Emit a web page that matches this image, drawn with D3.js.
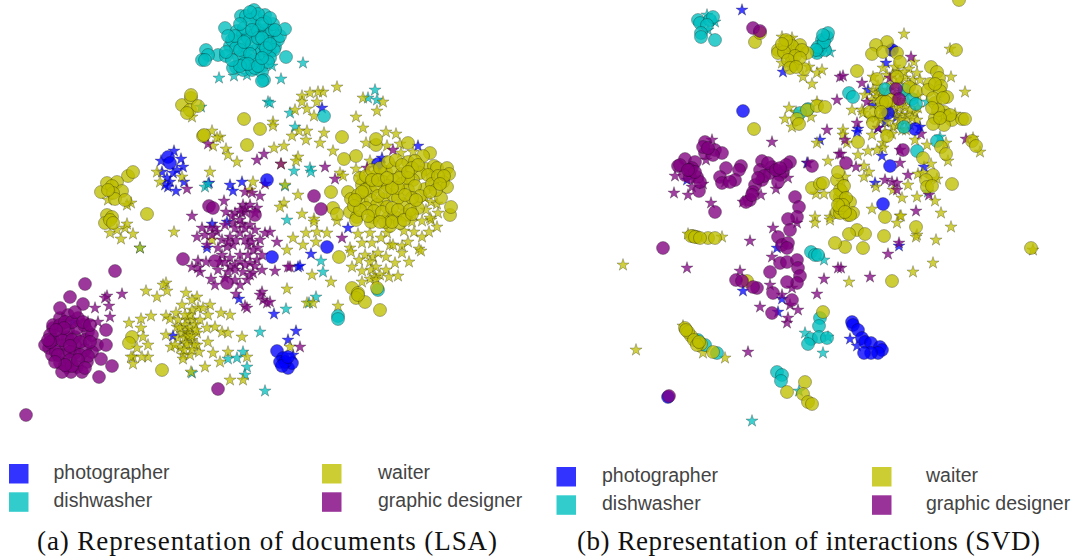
<!DOCTYPE html>
<html>
<head>
<meta charset="utf-8">
<script src="https://cdn.jsdelivr.net/npm/d3@7"></script>
<style>
	body { margin: 0; background: #fff; }
	.legend-label { font-family: "Liberation Sans", sans-serif; font-size: 19.5px; fill: #444; }
	.caption { font-family: "Liberation Serif", serif; font-size: 27px; fill: #111; }
</style>
</head>
<body>
<script>

// Job categories
var jobs = ["photographer", "dishwasher", "waiter", "graphic designer"];
var captions = ["(a) Representation of documents (LSA)", "(b) Representation of interactions (SVD)"];

// Panel (a), values, [x, y] in embedding units
var lsaPhotographerCircles = [[168,157],[170,163],[267,180],[327,247],[378,164],[272,257],[277,351],[283,358],[280,362],[288,368],[292,363],[285,362],[282,366],[288,357]];
var lsaPhotographerStars = [[174,151],[181,159],[161,161],[183,167],[177,170],[173,173],[162,172],[167,178],[170,182],[168,187],[184,182],[176,191],[165,185],[230,185],[242,182],[233,191],[209,183],[322,108],[418,146],[382,158],[212,224],[207,248],[227,222],[239,299],[173,336],[73,322],[348,228],[311,254],[298,267],[300,266],[274,314],[296,331],[288,340],[293,355]];
var lsaDishwasherCircles = [[225,28],[241,16],[246,16],[254,10],[256,17],[265,15],[237,31],[243,34],[255,26],[258,30],[251,36],[245,49],[258,31],[258,48],[246,58],[256,61],[247,50],[239,57],[236,67],[233,68],[243,70],[252,70],[254,60],[262,66],[262,50],[263,44],[230,46],[240,42],[248,38],[266,30],[268,36],[272,30],[273,24],[265,22],[268,42],[265,55],[270,52],[275,47],[278,40],[280,36],[274,50],[270,58],[262,72],[255,68],[218,55],[226,56],[206,50],[208,55],[202,60],[205,60],[264,80],[262,81],[285,29],[286,57],[324,116],[378,290],[338,316],[338,319],[232,40],[236,48],[240,50],[244,28],[250,20],[258,14],[262,24],[252,44],[250,54],[258,38],[262,38],[266,48],[268,62],[244,64],[240,66],[248,64],[258,66],[270,44],[262,58],[252,30],[240,24],[235,36],[250,12],[244,42],[275,30],[270,18],[228,36],[232,60],[226,52]];
var lsaDishwasherStars = [[219,78],[234,76],[247,75],[268,102],[201,107],[205,187],[208,184],[303,63],[281,79],[272,66],[270,103],[375,90],[368,98],[377,100],[290,113],[295,127],[310,168],[311,172],[294,171],[285,186],[287,220],[140,248],[192,373],[228,359],[237,358],[243,352],[247,367],[245,375],[260,332],[265,391],[321,261],[323,272],[286,309],[316,297],[309,303]];
var lsaWaiterCircles = [[182,105],[191,98],[190,110],[187,113],[198,106],[191,95],[244,119],[260,129],[247,145],[203,136],[204,135],[147,214],[128,176],[133,172],[101,192],[107,183],[117,182],[112,186],[122,191],[113,193],[115,199],[125,200],[108,190],[107,215],[112,217],[105,223],[110,220],[113,223],[132,337],[129,343],[162,370],[342,137],[356,156],[344,159],[331,192],[376,145],[376,139],[408,143],[430,153],[423,156],[450,215],[451,207],[333,208],[337,214],[350,212],[348,192],[351,199],[362,185],[370,182],[377,175],[386,172],[393,168],[402,174],[408,162],[415,161],[426,169],[434,166],[437,168],[447,168],[449,174],[443,182],[447,187],[433,178],[420,173],[425,189],[441,198],[371,191],[383,182],[393,180],[402,184],[413,180],[362,202],[371,200],[383,199],[393,195],[403,204],[408,190],[398,198],[377,205],[387,207],[418,208],[357,217],[373,217],[388,218],[405,215],[395,217],[356,220],[371,222],[390,226],[400,223],[385,222],[352,288],[358,293],[356,298],[365,302],[358,295],[377,288],[380,310],[339,257],[360,178],[366,176],[372,170],[380,168],[388,162],[396,160],[402,165],[412,168],[418,165],[358,195],[365,190],[376,186],[388,186],[398,188],[408,178],[415,186],[420,196],[412,198],[405,195],[378,196],[366,208],[374,211],[382,212],[392,208],[398,210],[410,210],[354,206],[360,210],[368,216],[380,222],[392,222],[404,220],[412,214],[416,200],[428,175],[432,184],[438,176],[444,176],[436,190],[430,192],[440,184],[385,192],[392,188],[372,180],[378,180],[399,178],[408,172],[387,178],[362,192],[355,200]];
var lsaWaiterStars = [[337,87],[323,92],[318,92],[310,93],[302,96],[302,102],[317,102],[307,109],[295,110],[314,116],[363,98],[383,102],[377,111],[356,117],[363,128],[386,132],[396,134],[366,143],[387,146],[400,144],[401,153],[413,152],[370,161],[356,169],[360,177],[340,173],[343,176],[324,133],[320,143],[307,131],[306,140],[299,131],[292,136],[284,146],[274,148],[273,122],[273,126],[298,157],[296,161],[281,164],[302,214],[298,195],[284,203],[280,207],[285,185],[314,219],[333,151],[314,222],[337,221],[306,233],[317,232],[327,233],[293,238],[303,245],[316,242],[287,250],[312,275],[287,289],[331,282],[338,306],[307,303],[313,303],[290,347],[350,248],[351,252],[358,234],[370,233],[387,233],[404,231],[414,232],[422,237],[429,232],[437,227],[362,243],[372,243],[381,238],[390,245],[393,245],[402,246],[408,242],[402,253],[419,249],[421,251],[409,262],[395,263],[386,257],[365,255],[373,257],[378,253],[370,262],[359,260],[352,267],[362,271],[371,270],[376,267],[386,270],[389,277],[398,276],[380,275],[375,277],[370,279],[362,282],[376,280],[412,222],[422,221],[431,220],[425,198],[431,202],[437,204],[438,213],[426,210],[413,215],[430,218],[110,233],[117,230],[125,228],[133,234],[121,239],[127,224],[140,248],[174,232],[146,291],[157,297],[166,283],[163,285],[167,291],[186,293],[197,297],[192,300],[182,305],[198,308],[210,305],[176,313],[166,316],[170,319],[177,327],[151,316],[141,319],[129,323],[141,328],[143,337],[148,345],[137,348],[148,357],[133,357],[131,357],[133,364],[142,357],[166,335],[171,347],[178,338],[180,348],[183,355],[183,359],[190,355],[199,352],[192,310],[203,308],[187,320],[193,320],[200,320],[208,315],[207,328],[187,330],[182,333],[188,333],[197,333],[185,338],[192,340],[197,345],[208,342],[213,353],[215,327],[222,332],[221,313],[230,315],[228,333],[242,337],[228,352],[220,362],[247,357],[191,372],[205,367],[230,380],[243,380],[212,240],[192,117],[212,131],[220,137],[213,146],[217,138],[226,149],[228,155],[237,162],[210,172],[157,172],[160,182],[182,177],[108,200],[131,203],[127,205],[253,182],[250,190],[185,325],[190,328],[188,336],[192,336],[195,325],[180,328],[186,343],[178,320],[194,345],[187,345],[190,315],[185,315],[175,345],[196,330],[184,350],[192,350]];
var lsaDesignerCircles = [[49,348],[52,355],[53,328],[53,325],[60,318],[68,315],[78,318],[88,332],[97,345],[85,340],[75,337],[67,337],[58,335],[58,345],[66,345],[75,353],[65,355],[60,363],[67,367],[77,367],[87,362],[92,352],[85,350],[71,372],[82,372],[50,335],[68,330],[77,328],[53,340],[75,345],[85,284],[70,297],[83,304],[60,308],[106,330],[106,345],[101,359],[112,366],[99,377],[115,271],[26,415],[183,259],[215,261],[227,283],[218,389],[209,206],[213,208],[314,196],[321,209],[255,215],[60,325],[65,322],[72,322],[84,325],[92,335],[45,345],[56,352],[62,340],[72,340],[80,342],[90,342],[58,355],[70,352],[80,355],[88,356],[70,360],[62,372],[72,366],[78,360],[50,342],[83,322],[75,312],[64,328],[56,330],[90,325],[70,346],[65,365],[85,368],[48,340],[55,362]];
var lsaDesignerStars = [[122,294],[107,296],[105,298],[109,306],[95,308],[110,317],[98,322],[88,322],[197,237],[202,228],[205,235],[217,232],[233,223],[242,224],[250,225],[265,233],[230,237],[240,233],[250,237],[227,247],[233,245],[248,245],[253,250],[222,255],[230,258],[240,262],[250,263],[257,260],[218,270],[230,267],[253,273],[198,261],[192,267],[200,272],[211,279],[235,280],[247,280],[236,294],[245,306],[247,308],[262,292],[263,300],[267,303],[260,295],[207,245],[264,154],[257,160],[224,201],[245,192],[252,193],[260,196],[265,184],[243,205],[235,213],[245,212],[257,208],[187,189],[192,216],[208,144],[242,213],[255,213],[325,167],[335,179],[367,168],[393,150],[281,164],[342,238],[277,242],[275,271],[290,267],[288,267],[300,347],[270,232],[270,302],[215,228],[225,225],[235,228],[245,228],[255,230],[260,240],[222,240],[228,242],[236,240],[245,240],[252,242],[258,248],[220,262],[225,262],[235,265],[245,265],[255,266],[228,272],[235,270],[243,272],[225,278],[250,275],[240,255],[248,255],[262,255],[218,248],[212,235],[210,228],[240,220],[232,216],[240,210],[246,208],[226,212],[250,205],[206,262],[198,268],[215,285],[240,285],[262,270]];

// Panel (b)
var svdPhotographerCircles = [[203,111],[350,166],[375,129],[348,113],[343,204],[352,50],[312,322],[313,325],[318,330],[322,338],[325,342],[331,343],[340,347],[342,350],[338,353],[331,353],[324,353],[128,397]];
var svdPhotographerStars = [[202,10],[243,72],[280,140],[267,163],[147,180],[352,48],[346,63],[328,90],[333,105],[380,127],[357,117],[345,122],[318,129],[317,132],[342,156],[384,167],[335,183],[338,128],[310,339],[317,346],[359,246],[203,291],[242,299],[238,312],[237,248]];
var svdDishwasherCircles = [[158,20],[160,23],[170,20],[173,17],[167,25],[161,33],[161,37],[175,40],[287,37],[282,40],[283,45],[280,50],[277,53],[285,50],[268,109],[260,113],[309,93],[313,97],[345,89],[365,90],[372,99],[376,104],[364,127],[397,141],[377,151],[271,252],[275,255],[278,255],[280,318],[279,326],[271,339],[268,344],[279,337],[287,338],[158,340],[165,345],[177,353],[237,372],[242,375],[241,381],[278,47],[284,42],[288,33],[283,35],[276,50]];
var svdDishwasherStars = [[175,22],[167,15],[168,30],[290,52],[278,53],[284,260],[265,333],[283,353],[212,421],[259,391],[288,337],[387,102],[400,137],[388,192]];
var svdWaiterCircles = [[215,42],[220,33],[238,50],[249,42],[257,50],[260,45],[267,53],[238,53],[250,55],[252,62],[253,65],[264,69],[214,129],[267,110],[277,106],[285,107],[257,119],[259,124],[297,180],[272,188],[280,184],[283,183],[300,197],[297,212],[300,203],[419,0],[416,50],[347,42],[336,45],[332,54],[343,52],[357,53],[360,62],[317,71],[337,79],[357,77],[369,87],[376,91],[351,100],[342,102],[346,102],[330,112],[341,112],[333,123],[318,142],[347,136],[383,158],[401,147],[406,154],[391,67],[397,72],[399,78],[390,84],[401,86],[388,90],[400,91],[407,97],[395,103],[393,98],[404,112],[405,116],[412,120],[404,125],[395,118],[393,124],[422,119],[425,119],[432,141],[436,146],[393,175],[386,180],[387,187],[392,186],[412,184],[345,217],[302,192],[310,202],[308,215],[313,213],[300,213],[317,230],[309,234],[325,234],[344,236],[305,247],[323,248],[376,227],[491,248],[352,281],[310,215],[295,243],[157,237],[153,236],[168,238],[175,238],[207,281],[283,312],[145,328],[151,336],[161,344],[173,352],[247,392],[265,382],[263,394],[268,402],[272,404],[245,46],[252,46],[262,50],[244,52],[255,56],[248,60],[260,58],[246,40],[242,44],[250,68],[256,67],[395,84],[403,98],[398,110],[410,115],[392,108],[400,118],[300,190],[304,200],[296,195],[300,208],[304,186],[298,172],[306,198],[303,205],[298,205],[305,212],[148,332],[154,340],[157,345],[146,330],[159,342],[151,236],[155,237],[160,238]];
var svdWaiterStars = [[242,37],[252,38],[242,63],[263,77],[269,67],[277,73],[282,70],[272,84],[249,108],[256,112],[245,119],[252,127],[271,117],[277,102],[277,143],[288,161],[276,194],[284,194],[275,217],[290,217],[364,34],[410,49],[374,62],[369,69],[377,73],[343,68],[333,77],[411,77],[425,92],[325,95],[333,90],[337,93],[312,110],[322,110],[323,113],[415,114],[303,130],[303,135],[307,143],[332,135],[337,117],[343,143],[343,148],[337,150],[328,151],[318,155],[324,166],[329,172],[324,177],[305,177],[302,182],[336,187],[368,185],[378,174],[391,164],[397,179],[375,140],[387,145],[406,143],[408,161],[440,152],[433,138],[362,198],[377,197],[332,209],[395,201],[401,213],[360,216],[353,190],[383,173],[343,110],[350,113],[357,115],[362,115],[368,115],[375,113],[377,120],[353,127],[365,120],[370,125],[358,108],[352,105],[343,97],[337,97],[368,102],[360,80],[365,78],[373,80],[355,67],[361,216],[357,223],[377,235],[376,237],[396,240],[411,227],[393,263],[373,272],[309,282],[148,234],[182,237],[83,265],[96,350],[143,326],[163,353],[185,358],[275,223],[290,220],[493,250],[340,100],[345,105],[348,90],[355,95],[360,100],[365,108],[352,112],[345,115],[338,108],[332,100],[330,118],[340,120],[348,122],[358,125],[362,130],[370,110],[372,118],[378,108],[350,85],[356,85],[362,92],[368,92],[358,72],[364,72],[347,75],[353,75],[338,86],[342,92],[360,120],[366,130],[352,134],[345,132],[370,85],[360,105],[355,100],[378,96],[380,80]];
var svdDesignerCircles = [[213,28],[220,31],[165,142],[175,150],[182,153],[165,153],[173,155],[145,159],[138,166],[155,162],[152,168],[157,177],[145,175],[150,177],[159,191],[175,212],[186,168],[201,166],[199,170],[180,177],[182,183],[195,180],[190,182],[222,161],[250,162],[232,167],[220,170],[230,173],[243,172],[240,175],[238,182],[222,180],[215,185],[213,192],[210,200],[206,202],[255,197],[259,207],[272,166],[257,217],[248,219],[356,89],[359,99],[363,150],[306,163],[238,237],[242,245],[248,243],[250,230],[247,248],[123,248],[196,280],[202,281],[217,288],[213,287],[230,272],[240,263],[247,262],[257,260],[258,268],[260,276],[257,283],[247,282],[233,293],[252,300],[232,313],[129,396],[160,182],[140,165],[150,170],[155,172],[148,170],[163,147],[168,148],[228,163],[236,170],[246,165],[224,176],[218,178],[212,195],[240,168]];
var svdDesignerStars = [[297,100],[287,130],[232,142],[172,140],[166,160],[135,176],[134,193],[148,195],[152,187],[163,184],[171,203],[185,182],[268,163],[236,189],[248,178],[221,195],[203,202],[299,154],[300,77],[303,76],[322,83],[371,57],[350,78],[327,102],[317,123],[338,128],[305,140],[381,134],[426,139],[360,163],[316,167],[301,154],[368,175],[345,180],[352,182],[357,183],[357,190],[389,195],[376,211],[360,150],[348,254],[359,243],[330,277],[301,268],[233,228],[210,241],[147,268],[232,257],[200,271],[230,285],[252,288],[242,295],[220,307],[250,305],[258,310],[247,323],[248,318],[284,279],[277,294],[208,352],[257,223],[298,268]];

// Same colour for every job in both panels
var colorScale = d3.scaleOrdinal()
	.domain(jobs)
	.range(["#0000ff", "#00bfbf", "#bfbf00", "#800080"]);

var svg = d3.select("body").append("svg")
	.attr("width", 1076)
	.attr("height", 560);

// The source is a slightly soft bitmap
var blur = svg.append("defs").append("filter")
	.attr("id", "soft")
	.attr("x", "-5%").attr("y", "-5%")
	.attr("width", "110%").attr("height", "110%");
blur.append("feGaussianBlur").attr("stdDeviation", 0.45);

var star = d3.symbol().type(d3.symbolStar).size(46);

function drawPanel(panel, circles, stars, captionText) {

	var xScale = d3.scaleLinear().domain(panel.xDomain).range(panel.xRange);
	var yScale = d3.scaleLinear().domain([0, 560]).range([0, 560]);

	var marks = svg.append("g").attr("filter", "url(#soft)");

	// Stars first, circles sit on top of them
	jobs.forEach(function(job, i) {
		marks.append("g").selectAll("path")
			.data(stars[i])
			.enter()
			.append("path")
			.attr("d", star)
			.attr("transform", function(d) {
				return "translate(" + xScale(d[0]) + "," + yScale(d[1]) + ")";
			})
			.attr("fill", colorScale(job))
			.attr("fill-opacity", 0.75)
			.attr("stroke", "#000")
			.attr("stroke-opacity", 0.4)
			.attr("stroke-width", 0.6);
	});

	jobs.forEach(function(job, i) {
		marks.append("g").selectAll("circle")
			.data(circles[i])
			.enter()
			.append("circle")
			.attr("cx", function(d) { return xScale(d[0]); })
			.attr("cy", function(d) { return yScale(d[1]); })
			.attr("r", 6.5)
			.attr("fill", colorScale(job))
			.attr("fill-opacity", 0.78)
			.attr("stroke", "#000")
			.attr("stroke-opacity", 0.4)
			.attr("stroke-width", 0.7);
	});

	// Legend, two columns of two
	var legend = svg.append("g").selectAll("g")
		.data(jobs)
		.enter()
		.append("g")
		.attr("transform", function(d, i) {
			var x = i < 2 ? panel.legendX[0] : panel.legendX[1];
			return "translate(" + x + "," + (panel.legendY + (i % 2) * 28.3) + ")";
		});

	legend.append("rect")
		.attr("width", 19.5)
		.attr("height", 19.5)
		.attr("fill", function(d) { return colorScale(d); })
		.attr("fill-opacity", 0.8);

	legend.append("text")
		.attr("class", "legend-label")
		.attr("x", function(d, i) { return i < 2 ? panel.labelDx[0] : panel.labelDx[1]; })
		.attr("y", 15)
		.text(function(d) { return d; });

	svg.append("text")
		.attr("class", "caption")
		.attr("x", panel.captionX)
		.attr("y", 550)
		.attr("textLength", panel.captionLength)
		.attr("lengthAdjust", "spacing")
		.text(captionText);
}

drawPanel({xDomain: [0, 540], xRange: [0, 540], legendX: [9, 322], legendY: 464, labelDx: [44.5, 56], captionX: 37, captionLength: 460},
	[lsaPhotographerCircles, lsaDishwasherCircles, lsaWaiterCircles, lsaDesignerCircles],
	[lsaPhotographerStars, lsaDishwasherStars, lsaWaiterStars, lsaDesignerStars],
	captions[0]);

drawPanel({xDomain: [0, 536], xRange: [540, 1076], legendX: [556.5, 872], legendY: 467, labelDx: [45.5, 54], captionX: 577, captionLength: 463},
	[svdPhotographerCircles, svdDishwasherCircles, svdWaiterCircles, svdDesignerCircles],
	[svdPhotographerStars, svdDishwasherStars, svdWaiterStars, svdDesignerStars],
	captions[1]);

</script>
</body>
</html>
